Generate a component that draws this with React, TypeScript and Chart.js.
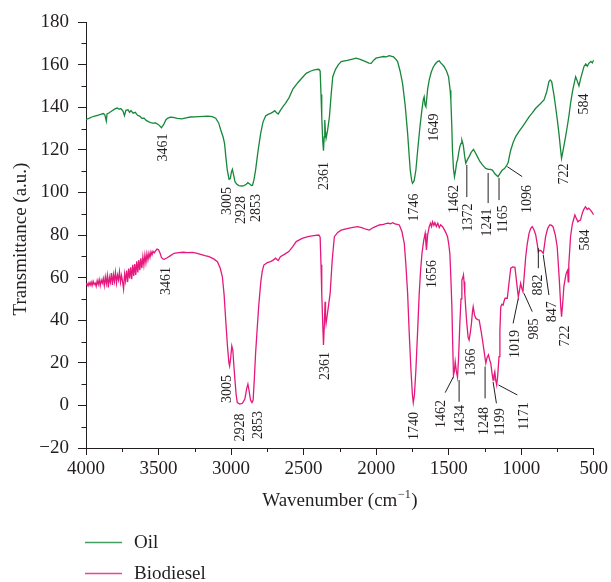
import React, { useEffect, useRef } from 'react';
import { Chart, registerables } from 'chart.js';

Chart.register(...registerables);

const FONT = '"Liberation Serif", "Times New Roman", serif';
const INK = '#231f20';
const OIL_COLOR = '#17873a';
const BIO_COLOR = '#e5187c';

// Axis ticks
const xMajorTicks = [4000, 3500, 3000, 2500, 2000, 1500, 1000, 500];
const xMinorTicks = [3750, 3250, 2750, 2250, 1750, 1250, 750];
const yMajorTicks = [-20, 0, 20, 40, 60, 80, 100, 120, 140, 160, 180];
const yMinorTicks = [-10, 10, 30, 50, 70, 90, 110, 130, 150, 170];

const seriesNames = ['Oil', 'Biodiesel'];

// Oil spectrum: [wavenumber cm-1, transmittance a.u.]
const oilSpectrum: [number, number][] = [
  [4000, 134.3], [3980, 134.8], [3960, 135.4], [3940, 135.8], [3920, 136.2], [3900, 136.6], [3880, 137], [3870, 136.4],
  [3860, 133.5], [3855, 136.8], [3840, 137.4], [3820, 138.3], [3800, 139.2], [3785, 139.6], [3770, 139], [3760, 139.4],
  [3745, 138.2], [3735, 136], [3725, 138.5], [3710, 138.8], [3700, 137.6], [3690, 138.4], [3675, 137.2], [3660, 137.6],
  [3645, 136.2], [3630, 135.8], [3615, 134.8], [3600, 134.9], [3585, 133.8], [3570, 133.2], [3555, 132.8], [3540, 132.5],
  [3520, 132.6], [3500, 131.8], [3480, 130.4], [3465, 131.8], [3450, 134], [3438, 134.8], [3420, 135.3], [3400, 135.2],
  [3370, 134.8], [3340, 134.5], [3310, 135], [3280, 135.4], [3250, 135.5], [3220, 135.6], [3190, 135.7], [3160, 135.8],
  [3130, 135.6], [3106, 134.8], [3085, 132.5], [3071, 129.3], [3055, 126], [3045, 123], [3035, 116], [3026, 110.5],
  [3014, 106.2], [3005, 106.5], [2998, 109.5], [2991, 110.8], [2982, 108], [2973, 105], [2960, 103.8], [2946, 103.2],
  [2925, 103], [2911, 103.2], [2895, 103.8], [2884, 104.6], [2872, 104], [2860, 103.2], [2852, 103.4], [2842, 106],
  [2831, 110.5], [2815, 119], [2796, 127.7], [2780, 133], [2762, 135.9], [2745, 136.6], [2728, 137.1], [2710, 137.8],
  [2698, 138.4], [2688, 137.5], [2675, 136.8], [2660, 138.5], [2640, 140.5], [2625, 141.8], [2600, 144.5], [2574, 148.5],
  [2540, 151.5], [2510, 153.8], [2482, 155.9], [2450, 157], [2420, 157.6], [2395, 157.8], [2386, 157], [2380, 146],
  [2375, 135.5], [2368, 124], [2363, 119.6], [2358, 126], [2354, 134], [2350, 129], [2345, 125.4], [2335, 129],
  [2322, 135.5], [2310, 146], [2299, 154.3], [2280, 157.8], [2260, 160], [2241, 161.4], [2200, 162], [2170, 162.5],
  [2138, 163], [2110, 162.4], [2080, 161.6], [2050, 160.7], [2035, 160.6], [2015, 162.2], [2001, 163], [1970, 163.5],
  [1950, 163.8], [1930, 163.6], [1910, 164.2], [1898, 164], [1880, 163.6], [1865, 162.6], [1852, 161.4], [1835, 157],
  [1818, 151.2], [1800, 141], [1783, 127.7], [1772, 117], [1765, 110.5], [1755, 105.5], [1749, 104.3], [1738, 105.5],
  [1726, 110.5], [1712, 121], [1698, 130.8], [1685, 138.5], [1675, 143.5], [1669, 144.9], [1663, 141], [1657, 140.2],
  [1650, 145], [1645, 148.5], [1634, 152.8], [1620, 156.5], [1605, 159], [1590, 160.5], [1577, 161.4], [1565, 161.8],
  [1555, 160.8], [1545, 160.2], [1531, 159], [1515, 157], [1501, 154.3], [1490, 148], [1485, 143.4], [1478, 130],
  [1474, 119.9], [1467, 111], [1460, 107.4], [1452, 110.5], [1445, 114], [1439, 115.2], [1430, 119], [1423, 121.5],
  [1415, 123], [1409, 124.6], [1404, 123.5], [1398, 121.5], [1390, 117], [1382, 113.7], [1370, 115.5], [1359, 116.8],
  [1345, 118.8], [1329, 120.2], [1315, 118.5], [1302, 116.8], [1285, 114.5], [1267, 112.9], [1245, 111.3], [1226, 110.8],
  [1212, 110.8], [1199, 110.5], [1180, 108.6], [1160, 107.4], [1145, 109], [1130, 110.5], [1115, 111.2], [1102, 112.4],
  [1090, 114], [1080, 117.5], [1072, 119.9], [1055, 123.5], [1038, 126.2], [1015, 128.6], [992, 130.8], [970, 133],
  [946, 135.5], [925, 137.2], [900, 139.5], [870, 141.5], [843, 143.4], [825, 147], [809, 152], [800, 152.8],
  [790, 152], [775, 146], [763, 140.2], [750, 133.5], [740, 127.7], [730, 121], [722, 116], [712, 119.5],
  [694, 126.2], [680, 132], [670, 136.5], [660, 141.8], [645, 148], [625, 154.3], [615, 152.5], [602, 150],
  [590, 153.5], [580, 156], [568, 159], [555, 160.3], [545, 159.2], [534, 160.6], [520, 161.5], [510, 160.8], [500, 162.2],
];

// Biodiesel spectrum: [wavenumber cm-1, transmittance a.u.]
const biodieselSpectrum: [number, number][] = [
  [4000, 56.5], [3993, 57.2], [3986, 56.1], [3979, 57.6], [3972, 56.4], [3965, 57.9], [3958, 56.2], [3951, 58.3],
  [3944, 56.8], [3937, 57.5], [3930, 55.9], [3923, 58.6], [3916, 56.7], [3909, 59.1], [3902, 56.3], [3895, 58.8],
  [3888, 57.4], [3881, 59.6], [3874, 56.2], [3867, 60.3], [3860, 57.1], [3853, 61], [3846, 55.4], [3839, 60.2],
  [3832, 57.8], [3825, 62.1], [3818, 56.6], [3811, 61.4], [3804, 58.2], [3797, 62.5], [3790, 57.4], [3783, 61.2],
  [3776, 58.9], [3769, 62.8], [3762, 57.8], [3755, 60.9], [3748, 58.1], [3741, 54.6], [3734, 61.7], [3727, 58.4],
  [3720, 63.3], [3713, 57.9], [3706, 64.2], [3699, 59.6], [3692, 64.8], [3685, 59.2], [3678, 66], [3671, 60.8],
  [3664, 66.3], [3657, 61.2], [3650, 67.6], [3643, 62.4], [3636, 68.2], [3629, 63.5], [3622, 69], [3615, 64.4],
  [3608, 69.8], [3601, 65.8], [3594, 70.6], [3587, 66.9], [3580, 71.2], [3573, 68.3], [3566, 71.5], [3559, 69.4],
  [3552, 72.1], [3545, 70.6], [3538, 72.4], [3530, 71.6], [3520, 72.6], [3510, 73.4], [3500, 73.1], [3490, 71.5],
  [3480, 69.5], [3470, 68.8], [3461, 68.6], [3440, 69.3],
  [3420, 70.2], [3393, 71.4], [3360, 71.7], [3330, 71.9], [3300, 71.7], [3266, 71.8], [3240, 71.5], [3210, 70.9],
  [3180, 70.3], [3152, 69.8], [3120, 68.8], [3094, 67.5], [3075, 64.5], [3060, 60.4], [3048, 52], [3037, 40.1],
  [3025, 28], [3015, 20], [3010, 18.5], [3003, 22], [2995, 27.9], [2988, 26], [2980, 18], [2975, 13.5],
  [2965, 5], [2957, 1.3], [2940, 0.6], [2922, 1], [2905, 3], [2892, 8], [2884, 10], [2876, 7],
  [2866, 2.5], [2856, 1.3], [2848, 2.5], [2840, 12], [2831, 24.4], [2820, 36], [2808, 47.9], [2795, 58],
  [2785, 63], [2774, 65.9], [2750, 67], [2728, 67.5], [2710, 68.2], [2693, 69.1], [2684, 68.5], [2675, 68],
  [2660, 69.8], [2630, 71], [2602, 72.2], [2575, 74.5], [2551, 76.9], [2510, 78.4], [2470, 79.2], [2430, 79.7],
  [2395, 80], [2386, 79], [2380, 66], [2375, 52.6], [2368, 38], [2363, 28.4], [2357, 38], [2352, 48.7],
  [2349, 42], [2345, 38.5], [2332, 45], [2317, 52.6], [2303, 68], [2288, 79.2], [2265, 81.2], [2241, 82.3],
  [2200, 83], [2160, 83.6], [2127, 83.9], [2100, 83.5], [2070, 82.7], [2047, 82.3], [2020, 83.5], [1978, 84.7],
  [1950, 85], [1920, 85.6], [1900, 85.3], [1887, 85.8], [1870, 85.2], [1855, 85], [1840, 84.7], [1822, 81.5],
  [1806, 76.1], [1795, 66], [1783, 52.6], [1772, 34], [1760, 16.6], [1750, 5], [1744, 1.3], [1736, 5],
  [1726, 16.6], [1714, 35], [1703, 52.6], [1694, 63], [1684, 71.4], [1672, 77.5], [1662, 80.8], [1657, 76],
  [1653, 73], [1645, 80], [1634, 83.9], [1625, 85.5], [1618, 84], [1611, 86.2], [1602, 84.5], [1595, 85.8],
  [1585, 84], [1575, 85.5], [1565, 83.5], [1555, 84.8], [1542, 83.9], [1530, 82.5], [1519, 81], [1508, 79.2],
  [1500, 76], [1492, 71.4], [1485, 60], [1478, 46.3], [1472, 28], [1467, 14.3], [1461, 16], [1455, 20.5],
  [1447, 16], [1439, 13.2], [1432, 22], [1423, 38.5], [1415, 50], [1409, 58.9], [1402, 60], [1398, 61.2],
  [1394, 58], [1389, 52.6], [1382, 45], [1375, 38.5], [1366, 32], [1359, 30.7], [1351, 34], [1343, 38.5],
  [1336, 44], [1331, 46.3], [1322, 42.5], [1313, 40.9], [1300, 40.3], [1290, 40.1], [1278, 35.5], [1267, 30.7],
  [1255, 25], [1244, 19.8], [1235, 22.5], [1226, 23.7], [1218, 21.5], [1210, 19.8], [1202, 15.5], [1194, 11.9],
  [1188, 14], [1182, 15.8], [1176, 12], [1169, 9.6], [1162, 14], [1153, 22.9], [1147, 35], [1141, 46.3],
  [1133, 47.5], [1125, 47.1], [1118, 49], [1111, 50.3], [1096, 50.3], [1085, 57], [1072, 64.4], [1058, 65],
  [1043, 64.8], [1032, 58], [1020, 51], [1012, 54], [1004, 57.3], [996, 55], [988, 53.4], [978, 62],
  [969, 69.8], [958, 76], [946, 80.8], [935, 83], [924, 83.9], [912, 82.5], [900, 80], [890, 76],
  [882, 72.2], [872, 72.8], [862, 72.6], [855, 72], [848, 71.4], [840, 75], [832, 79.2], [818, 83],
  [804, 84.7], [792, 84.6], [781, 83.9], [765, 80], [752, 74.5], [744, 66], [736, 57.3], [728, 47],
  [722, 41.6], [714, 48], [706, 55.8], [698, 59], [690, 62], [680, 63.5], [676, 58], [672, 66],
  [660, 79.2], [648, 85], [638, 87.5], [630, 89.4], [620, 87.8], [609, 86.2], [600, 86.8], [591, 87],
  [580, 90], [570, 91.8], [557, 93.3], [545, 92], [535, 92.6], [522, 91.7], [510, 90.5], [500, 89.4],
];

// Peak labels (text, anchor in data units)
const oilPeakLabels: [string, number, number][] = [
  ['3461', 3470, 121.1], ['3005', 3023, 96], ['2928', 2927, 91.7], ['2853', 2824, 92.7],
  ['2361', 2356, 107.7], ['1746', 1737, 92.9], ['1649', 1600, 130.5], ['1462', 1462, 96.9],
  ['1372', 1364, 88.2], ['1241', 1233, 85.9], ['1165', 1123, 87.5], ['1096', 958, 96.9],
  ['722', 706, 108.6], ['584', 568, 141.5],
];
const biodieselPeakLabels: [string, number, number][] = [
  ['3461', 3445, 58.4], ['3005', 3025, 7.7], ['2928', 2936, -10.4], ['2853', 2815, -9.2],
  ['2361', 2349, 18.5], ['1740', 1737, -9.7], ['1656', 1611, 61.7], ['1462', 1554, -4],
  ['1434', 1421, -6.4], ['1366', 1347, 20.1], ['1248', 1256, -7.3], ['1199', 1141, -7.8],
  ['1171', 981, -5], ['1019', 1038, 28.8], ['985', 912, 35.9], ['882', 882, 56.5],
  ['847', 786, 44], ['722', 694, 32.6], ['584', 556, 77.7],
];
// Leader lines: [x1, y1, x2, y2] in data units
const oilLeaders: [number, number, number, number][] = [
  [1375, 112.9, 1375, 97.8], [1228, 109.1, 1228, 95], [1153, 106.8, 1153, 96.4], [1096, 112.1, 993, 107.4],
];
const biodieselLeaders: [number, number, number, number][] = [
  [1467, 13.5, 1524, 6], [1428, 11.9, 1428, 1.7], [1249, 18.2, 1249, 3.3], [1194, 11.1, 1171, 1],
  [1157, 9.6, 1027, 4.9], [1020, 50.3, 1056, 38.5], [981, 52.6, 924, 44], [882, 73.8, 882, 64.4],
  [848, 70.6, 809, 51.8],
];

const fmt = (v: number) => (v < 0 ? '\u2212' + Math.abs(v) : String(v));

const overlayPlugin = {
  id: 'overlay',
  afterDraw(chart: any) {
    const { ctx, chartArea } = chart;
    const x = chart.scales.x;
    const y = chart.scales.y;
    ctx.save();
    ctx.strokeStyle = INK;
    ctx.fillStyle = INK;
    ctx.lineWidth = 1;
    // minor ticks
    xMinorTicks.forEach((v) => {
      const px = Math.round(x.getPixelForValue(v)) + 0.5;
      ctx.beginPath();
      ctx.moveTo(px, chartArea.bottom);
      ctx.lineTo(px, chartArea.bottom + 4);
      ctx.stroke();
    });
    yMinorTicks.forEach((v) => {
      const py = Math.round(y.getPixelForValue(v)) + 0.5;
      ctx.beginPath();
      ctx.moveTo(chartArea.left, py);
      ctx.lineTo(chartArea.left - 4.5, py);
      ctx.stroke();
    });
    // leader lines
    [...oilLeaders, ...biodieselLeaders].forEach(([x1, y1, x2, y2]) => {
      ctx.beginPath();
      ctx.moveTo(x.getPixelForValue(x1), y.getPixelForValue(y1));
      ctx.lineTo(x.getPixelForValue(x2), y.getPixelForValue(y2));
      ctx.stroke();
    });
    // peak labels
    ctx.font = `14px ${FONT}`;
    ctx.textAlign = 'center';
    ctx.textBaseline = 'middle';
    [...oilPeakLabels, ...biodieselPeakLabels].forEach(([t, vx, vy]) => {
      ctx.save();
      ctx.translate(x.getPixelForValue(vx), y.getPixelForValue(vy));
      ctx.rotate(-Math.PI / 2);
      ctx.fillText(t, 0, 0);
      ctx.restore();
    });
    // y title
    ctx.font = `19px ${FONT}`;
    ctx.save();
    ctx.translate(21, (chartArea.top + chartArea.bottom) / 2 + 4);
    ctx.rotate(-Math.PI / 2);
    ctx.textAlign = 'center';
    ctx.textBaseline = 'middle';
    ctx.fillText('Transmittance (a.u.)', 0, 0);
    ctx.restore();
    // x title with superscript
    const a = 'Wavenumber (cm';
    const sup = '\u22121';
    const b = ')';
    ctx.textAlign = 'left';
    ctx.textBaseline = 'alphabetic';
    ctx.font = `19px ${FONT}`;
    const wa = ctx.measureText(a).width;
    const wb = ctx.measureText(b).width;
    ctx.font = `12px ${FONT}`;
    const ws = ctx.measureText(sup).width;
    const cx = (chartArea.left + chartArea.right) / 2;
    const sx = cx - (wa + ws + wb + 1) / 2;
    const base = 506;
    ctx.font = `19px ${FONT}`;
    ctx.fillText(a, sx, base);
    ctx.font = `12px ${FONT}`;
    ctx.fillText(sup, sx + wa + 0.5, base - 8);
    ctx.font = `19px ${FONT}`;
    ctx.fillText(b, sx + wa + ws + 1, base);
    // legend
    const legendColors = [OIL_COLOR, BIO_COLOR];
    const legendY = [542.5, 573.5];
    seriesNames.forEach((name, i) => {
      ctx.strokeStyle = legendColors[i];
      ctx.globalAlpha = 0.8;
      ctx.lineWidth = 1.5;
      ctx.beginPath();
      ctx.moveTo(85, legendY[i]);
      ctx.lineTo(122, legendY[i]);
      ctx.stroke();
      ctx.globalAlpha = 1;
      ctx.fillStyle = INK;
      ctx.font = `19px ${FONT}`;
      ctx.textBaseline = 'middle';
      ctx.fillText(name, 134, legendY[i] + 1);
    });
    ctx.restore();
  },
};

export default function App() {
  const ref = useRef<HTMLCanvasElement | null>(null);
  useEffect(() => {
    if (!ref.current) return;
    const chart = new Chart(ref.current, {
      type: 'line',
      data: {
        datasets: [
          {
            label: seriesNames[0],
            data: oilSpectrum.map(([wx, wy]) => ({ x: wx, y: wy })),
            borderColor: OIL_COLOR,
            borderWidth: 1.3,
            pointRadius: 0,
            tension: 0,
            fill: false,
          },
          {
            label: seriesNames[1],
            data: biodieselSpectrum.map(([wx, wy]) => ({ x: wx, y: wy })),
            borderColor: BIO_COLOR,
            borderWidth: 1.3,
            pointRadius: 0,
            tension: 0,
            fill: false,
          },
        ],
      },
      options: {
        responsive: false,
        animation: false,
        layout: { padding: { left: 0, right: 16, top: 22, bottom: 74 } },
        plugins: { legend: { display: false }, tooltip: { enabled: false }, title: { display: false } },
        scales: {
          x: {
            type: 'linear',
            reverse: true,
            min: 500,
            max: 4000,
            afterBuildTicks: (s: any) => { s.ticks = xMajorTicks.map((v) => ({ value: v })); },
            afterFit: (s: any) => { s.height = 60; },
            grid: { display: true, drawOnChartArea: false, drawTicks: true, tickLength: 7, color: INK, tickColor: INK },
            border: { display: true, color: INK, width: 1 },
            ticks: { color: INK, font: { family: FONT, size: 19 }, padding: 3, maxRotation: 0, callback: (v: any) => fmt(Number(v)) },
          },
          y: {
            type: 'linear',
            min: -20,
            max: 180,
            afterBuildTicks: (s: any) => { s.ticks = yMajorTicks.map((v) => ({ value: v })); },
            afterFit: (s: any) => { s.width = 86; },
            grid: { display: true, drawOnChartArea: false, drawTicks: true, tickLength: 8, color: INK, tickColor: INK },
            border: { display: true, color: INK, width: 1 },
            ticks: { color: INK, font: { family: FONT, size: 19 }, padding: 9, callback: (v: any) => fmt(Number(v)) },
          },
        },
      },
      plugins: [overlayPlugin],
    } as any);
    return () => chart.destroy();
  }, []);
  return (
    <div style={{ position: 'absolute', left: 0, top: 0, width: 611, height: 582, background: '#fff' }}>
      <canvas ref={ref} width={611} height={582} />
    </div>
  );
}
